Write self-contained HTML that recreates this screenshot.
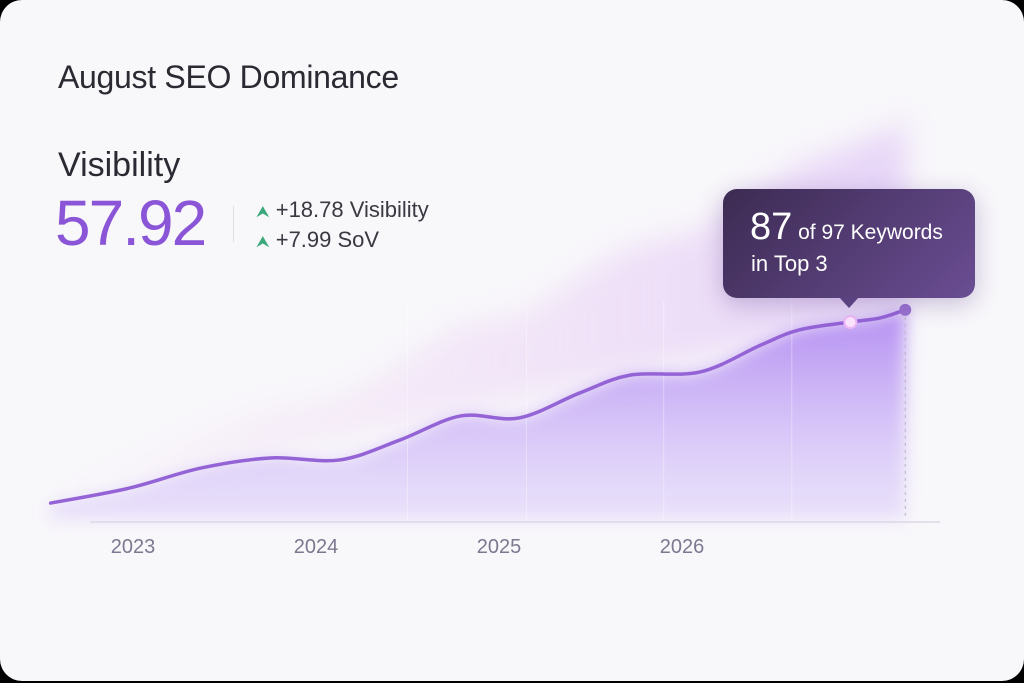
<!DOCTYPE html>
<html><head><meta charset="utf-8"><style>
html,body{margin:0;padding:0;background:#000;}
#card{position:absolute;left:0;top:0;width:1024px;height:681px;border-radius:22px;background:#f8f7fa;overflow:hidden;font-family:"Liberation Sans",sans-serif;}
.t{position:absolute;white-space:nowrap;}
</style></head><body>
<div id="card">
<div class="t" style="left:58px;top:59px;font-size:32px;color:#2b2a33;letter-spacing:-0.3px;">August SEO Dominance</div>
<div class="t" style="left:58px;top:146px;font-size:34px;color:#2b2a33;">Visibility</div>
<div class="t" style="left:55px;top:186px;font-size:64px;color:#8a55d6;letter-spacing:-2px;">57.92</div>
<div style="position:absolute;left:233px;top:206px;width:1px;height:36px;background:#e0dee6;"></div>
<div class="t" style="left:256px;top:197px;font-size:22px;color:#3a3942;"><span style="color:#3aa87a;font-size:16px;">&#x2B9D;</span> +18.78 Visibility</div>
<div class="t" style="left:256px;top:227px;font-size:22px;color:#3a3942;"><span style="color:#3aa87a;font-size:16px;">&#x2B9D;</span> +7.99 SoV</div>
<svg id="chart" width="1024" height="681" style="position:absolute;left:0;top:0;">
<defs>
<linearGradient id="fill" x1="0" y1="0" x2="0" y2="1"><stop offset="0" stop-color="#a87cf0" stop-opacity="0.85"/><stop offset="1" stop-color="#d4c2fb" stop-opacity="0.4"/></linearGradient>
<linearGradient id="glow" x1="0" y1="0" x2="1" y2="0"><stop offset="0" stop-color="#f2c8f0" stop-opacity="0.1"/><stop offset="1" stop-color="#d8b8f6" stop-opacity="0.9"/></linearGradient>
<filter id="blur"><feGaussianBlur stdDeviation="14"/></filter>
<filter id="sh"><feGaussianBlur stdDeviation="8"/></filter>
</defs>
<g id="plot"></g>
</svg>
<div style="position:absolute;left:723px;top:189px;width:252px;height:109px;border-radius:14px;background:linear-gradient(135deg,#3c2b52,#6a4d93);box-shadow:0 6px 24px rgba(90,60,140,0.3);">
<div class="t" style="left:27px;top:17px;color:#fff;font-size:21px;"><span style="font-size:38px;">87</span> of 97 Keywords</div>
<div class="t" style="left:28px;top:62px;color:#fff;font-size:22px;">in Top 3</div>
<div style="position:absolute;left:116px;top:108px;width:0;height:0;border-left:10px solid transparent;border-right:10px solid transparent;border-top:11px solid #5a4280;"></div>
</div>
</div>
<script>
const years=[2023,2024,2025,2026];
const times=[2022.55,2022.98,2023.37,2023.75,2024.13,2024.46,2024.79,2025.11,2025.44,2025.72,2026.1,2026.43,2026.64,2026.92,2027.08,2027.22];
const values=[7.7,14.5,23.6,28.2,27.3,36.4,47.3,46.4,57.7,65.9,67.3,79.5,86.4,90,91.8,95.5];
const highlightIndex=13;
const NS='http://www.w3.org/2000/svg';
function xs(t){return 133+(t-2023)*183;}
function ys(v){return 520-v*2.2;}
const g=document.getElementById('plot');
function mk(tag,attrs){const e=document.createElementNS(NS,tag);for(const k in attrs)e.setAttribute(k,attrs[k]);g.appendChild(e);return e;}
const pts=times.map((t,i)=>[xs(t),ys(values[i])]);
function curve(p){let d='M'+p[0][0]+','+p[0][1];for(let i=0;i<p.length-1;i++){const p0=p[i-1]||p[i],p1=p[i],p2=p[i+1],p3=p[i+2]||p2;d+=' C'+(p1[0]+(p2[0]-p0[0])/6)+','+(p1[1]+(p2[1]-p0[1])/6)+' '+(p2[0]-(p3[0]-p1[0])/6)+','+(p2[1]-(p3[1]-p1[1])/6)+' '+p2[0]+','+p2[1];}return d;}
const line=curve(pts);
const last=pts[pts.length-1];
const glowPts=pts.map(p=>[p[0],p[1]-(p[0]-50)*0.22]);
let gd=curve(glowPts)+' L'+last[0]+','+last[1]+' L'+pts[0][0]+','+pts[0][1]+' Z';
let e=mk('path',{d:gd,fill:'url(#glow)',opacity:0.6,filter:'url(#blur)'});


e=mk('path',{d:line+' L'+last[0]+',520 L'+pts[0][0]+',520 Z',fill:'url(#fill)',filter:'url(#sh)'});


[2024.5,2025.15,2025.9,2026.6].forEach(t=>{const l=mk('line',{x1:xs(t),x2:xs(t),y1:300,y2:520,stroke:'#ffffff',"stroke-opacity":0.35});});
e=mk('line',{x1:90,x2:940,y1:522,y2:522,stroke:'#dcd8e6','stroke-width':1.5});


e=mk('line',{x1:last[0],x2:last[0],y1:last[1],y2:520,stroke:'#b8b4c4','stroke-dasharray':'3,4'});


e=mk('path',{d:line,fill:'none',stroke:'#9463d6','stroke-width':3.5,'stroke-linecap':'round'});


const h=pts[highlightIndex];
e=mk('circle',{cx:h[0],cy:h[1],r:6,fill:'#fbe6ff',stroke:'#f0b8f6','stroke-width':2});


e=mk('circle',{cx:last[0],cy:last[1],r:6,fill:'#9a72d0'});


years.forEach(y=>{const t=mk('text',{x:xs(y),y:553,'text-anchor':'middle','font-size':20,fill:'#7c7890','font-family':'Liberation Sans, sans-serif'});t.textContent=y;});
</script>
</body></html>
